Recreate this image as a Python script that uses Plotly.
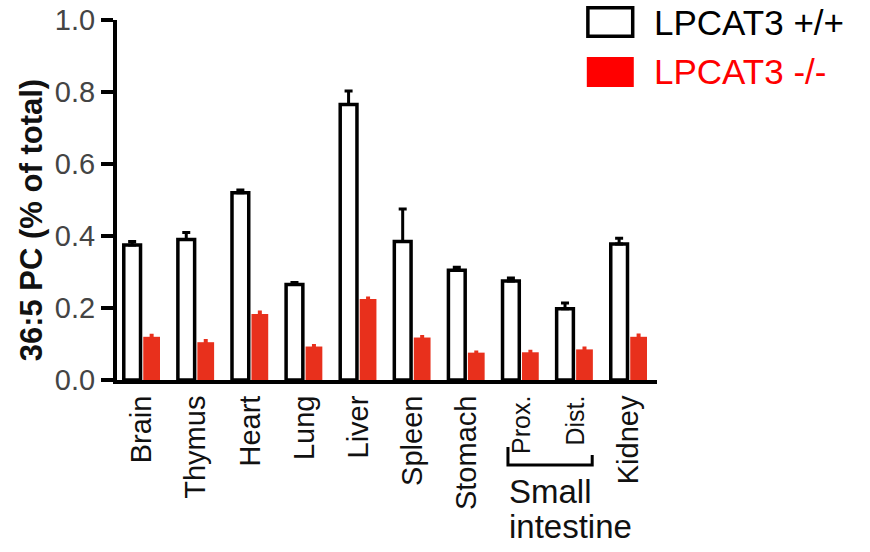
import plotly.graph_objects as go

categories = ["Brain", "Thymus", "Heart", "Lung", "Liver", "Spleen", "Stomach", "Prox.", "Dist.", "Kidney"]
tick_labels = ["Brain", "Thymus", "Heart", "Lung", "Liver", "Spleen", "Stomach",
               "<span style='font-size:25px'>Prox.</span>",
               "<span style='font-size:25px'>Dist.</span>", "Kidney"]
wt_values = [0.375, 0.39, 0.52, 0.265, 0.765, 0.385, 0.305, 0.275, 0.198, 0.378]
wt_err = [0.010, 0.020, 0.008, 0.006, 0.038, 0.090, 0.008, 0.008, 0.016, 0.016]
ko_values = [0.120, 0.105, 0.183, 0.093, 0.225, 0.118, 0.076, 0.077, 0.085, 0.120]
ko_err = [0.004, 0.005, 0.006, 0.003, 0.003, 0.003, 0.002, 0.003, 0.004, 0.005]
y_ticks = [0.0, 0.2, 0.4, 0.6, 0.8, 1.0]

FONT = "Liberation Sans, Arial, Helvetica, sans-serif"
RED_BAR = "#e8301c"

fig = go.Figure()
fig.add_trace(go.Bar(
    x=categories, y=wt_values, name="LPCAT3 +/+",
    marker=dict(color="white", line=dict(color="black", width=3.5)),
    error_y=dict(type="data", array=wt_err, arrayminus=[0] * len(wt_err),
                 symmetric=False, color="black", thickness=3, width=4),
    showlegend=False,
))
fig.add_trace(go.Bar(
    x=categories, y=ko_values, name="LPCAT3 -/-",
    marker=dict(color=RED_BAR, line=dict(width=0)),
    error_y=dict(type="data", array=ko_err, arrayminus=[0] * len(ko_err),
                 symmetric=False, color=RED_BAR, thickness=3, width=2),
    showlegend=False,
))

fig.update_layout(
    width=870, height=552,
    margin=dict(l=117, r=213, t=20, b=172, autoexpand=False),
    paper_bgcolor="white", plot_bgcolor="white",
    barmode="group", bargap=0.28, bargroupgap=0.14,
    font=dict(family=FONT, color="black"),
    xaxis=dict(
        type="category", range=[-0.46, 9.52], automargin=False,
        tickmode="array", tickvals=categories, ticktext=tick_labels,
        tickangle=-90, tickfont=dict(size=29, color="#111"),
        showline=True, linecolor="black", linewidth=4,
        ticks="", showgrid=False, zeroline=False,
    ),
    yaxis=dict(
        range=[0, 1.0], tickvals=y_ticks, tickformat=".1f", automargin=False,
        ticklabeloverflow="allow",
        tickfont=dict(size=29, color="#444"),
        showline=True, linecolor="black", linewidth=4,
        ticks="outside", ticklen=12, tickwidth=4, tickcolor="black",
        showgrid=False, zeroline=False,
    ),
)

# Y-axis title
fig.add_annotation(
    text="<b>36:5 PC (% of total)</b>", textangle=-90,
    xref="paper", yref="paper", x=-0.159, y=0.444,
    xanchor="center", yanchor="middle", showarrow=False,
    font=dict(size=31, color="#111", family=FONT),
)

# Legend (drawn manually)
fig.add_shape(type="rect", xref="paper", yref="paper",
              x0=0.872, x1=0.955, y0=0.955, y1=1.034,
              line=dict(color="black", width=3.5), fillcolor="white")
fig.add_shape(type="rect", xref="paper", yref="paper",
              x0=0.870, x1=0.957, y0=0.814, y1=0.897,
              line=dict(width=0), fillcolor="#ff0000")
fig.add_annotation(text="LPCAT3 +/+", xref="paper", yref="paper",
                   x=0.993, y=0.992, xanchor="left", yanchor="middle",
                   borderpad=0,
                   showarrow=False, font=dict(size=35, color="black", family=FONT))
fig.add_annotation(text="LPCAT3 -/-", xref="paper", yref="paper",
                   x=0.993, y=0.856, xanchor="left", yanchor="middle",
                   borderpad=0,
                   showarrow=False, font=dict(size=35, color="#ff0000", family=FONT))

# Small intestine bracket
fig.add_shape(type="path", xref="paper", yref="paper",
              path="M 0.724 -0.186 L 0.724 -0.236 L 0.880 -0.236 L 0.880 -0.208",
              line=dict(color="black", width=3))
fig.add_annotation(text="Small", xref="paper", yref="paper",
                   x=0.722, y=-0.311, xanchor="left", yanchor="middle",
                   showarrow=False, font=dict(size=33, color="#111", family=FONT))
fig.add_annotation(text="intestine", xref="paper", yref="paper",
                   x=0.722, y=-0.408, xanchor="left", yanchor="middle",
                   showarrow=False, font=dict(size=33, color="#111", family=FONT))

fig.write_html("out.html", config={"displayModeBar": False},
               post_script="document.body.style.margin='0';")
